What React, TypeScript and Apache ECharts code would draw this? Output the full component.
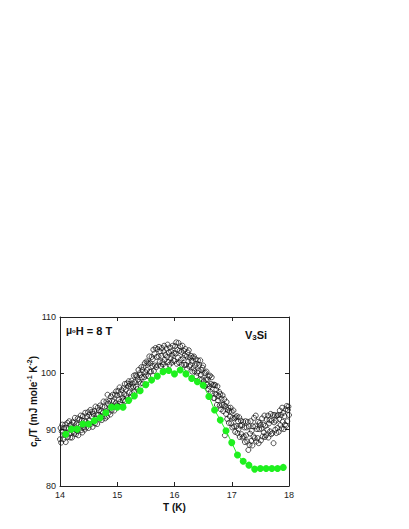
import React, { useEffect, useRef } from "react";
import * as echarts from "echarts";

// Black open circles: regularly sampled from 14.00 K in 0.01 K steps
const blackStartT = 14.0;
const blackStepT = 0.01;
const blackValues = [
  88.3, 90.3, 87.7, 89.7, 90.9, 89.1, 88.3, 90.3, 89.1, 90.9,
  87.8, 90.3, 89.5, 91.2, 88.7, 90.1, 91.5, 89.3, 88.6, 90.9,
  90.4, 88.6, 91.4, 89.6, 91.2, 89.3, 92.1, 90.2, 89.2, 91.0,
  89.8, 92.0, 89.0, 90.9, 91.8, 90.5, 92.5, 89.9, 91.7, 89.5,
  92.4, 90.4, 91.6, 90.0, 93.0, 91.4, 90.4, 92.4, 91.1, 93.1,
  90.3, 92.6, 91.6, 93.5, 91.0, 92.3, 93.2, 90.5, 92.8, 91.5,
  93.3, 91.1, 94.1, 92.0, 92.7, 91.0, 93.9, 92.6, 93.4, 91.8,
  94.3, 92.3, 93.3, 91.7, 94.1, 93.0, 95.0, 92.4, 94.0, 92.0,
  93.3, 95.0, 92.3, 96.2, 94.6, 93.0, 95.1, 94.0, 92.7, 95.9,
  93.4, 95.1, 96.2, 94.0, 95.0, 93.4, 96.2, 94.7, 96.8, 94.3,
  96.1, 94.2, 96.9, 95.4, 97.5, 94.9, 96.3, 94.4, 97.0, 95.7,
  95.2, 97.4, 96.3, 98.1, 95.1, 97.1, 96.1, 98.2, 95.6, 97.7,
  98.6, 96.6, 98.1, 95.7, 97.6, 98.7, 96.5, 98.2, 97.6, 99.6,
  96.8, 98.5, 99.7, 97.6, 99.5, 97.2, 98.9, 100.6, 98.5, 100.0,
  99.7, 98.2, 101.1, 99.3, 100.6, 98.2, 101.1, 99.3, 101.8, 100.2,
  99.6, 102.1, 100.6, 101.9, 99.5, 101.7, 103.0, 100.3, 101.8, 100.3,
  102.9, 101.3, 102.5, 104.2, 100.4, 103.5, 101.4, 104.5, 101.1, 102.9,
  104.3, 101.4, 103.0, 104.7, 102.0, 103.9, 101.3, 103.1, 104.5, 102.0,
  101.6, 103.9, 104.9, 102.4, 103.3, 101.2, 104.4, 102.9, 105.1, 102.0,
  103.7, 101.5, 104.6, 102.7, 103.9, 101.9, 103.3, 104.9, 102.3, 103.6,
  102.2, 104.8, 103.5, 105.5, 101.7, 104.2, 102.8, 105.4, 101.9, 104.0,
  104.8, 102.4, 103.8, 101.5, 104.9, 102.7, 104.0, 101.5, 103.2, 104.3,
  101.5, 103.0, 100.8, 103.7, 102.1, 104.1, 101.2, 102.8, 101.5, 103.1,
  102.2, 100.3, 102.8, 100.9, 103.0, 100.4, 101.4, 102.5, 99.5, 101.7,
  100.1, 102.3, 100.4, 101.5, 98.9, 102.3, 99.8, 100.6, 98.9, 101.0,
  101.4, 98.6, 100.0, 97.7, 100.1, 98.9, 100.3, 98.0, 98.9, 97.2,
  99.4, 97.7, 99.6, 96.7, 98.1, 99.3, 96.4, 97.9, 95.6, 98.0,
  95.6, 97.9, 96.3, 97.1, 94.4, 97.7, 95.2, 96.0, 96.7, 94.3,
  96.3, 93.6, 95.5, 94.4, 96.1, 93.3, 94.4, 95.4, 89.0, 94.2,
  92.8, 94.9, 91.9, 93.5, 93.9, 91.2, 93.3, 92.3, 93.9, 91.1,
  93.2, 90.4, 92.1, 93.4, 90.6, 92.0, 89.6, 92.2, 90.6, 92.4,
  89.4, 91.5, 90.1, 92.2, 88.7, 90.7, 91.6, 89.2, 90.8, 88.6,
  91.4, 88.8, 90.4, 87.8, 91.5, 89.0, 90.4, 87.9, 91.4, 86.4,
  90.6, 87.3, 89.3, 91.5, 88.0, 89.8, 87.2, 90.6, 88.8, 92.1,
  88.5, 90.6, 92.5, 87.9, 90.1, 88.5, 91.4, 87.6, 90.1, 91.2,
  90.8, 88.1, 90.2, 92.0, 88.8, 90.9, 89.5, 92.5, 88.7, 90.7,
  89.0, 91.8, 90.0, 92.5, 88.6, 91.1, 91.7, 89.7, 92.8, 89.2,
  91.6, 89.4, 92.6, 87.6, 91.3, 92.6, 90.0, 91.6, 89.4, 92.5,
  90.3, 92.6, 89.6, 91.9, 93.4, 90.8, 92.6, 90.2, 93.9, 91.4,
  93.0, 90.1, 92.4, 90.9, 93.6, 90.7, 94.2, 91.5, 93.5, 94.1,
  92.6,
];

// Green filled points (T in K, cp/T)
const greenT = [
  14.1, 14.2, 14.3, 14.4, 14.5, 14.6, 14.7, 14.8, 14.9, 15.0,
  15.1, 15.2, 15.3, 15.4, 15.5, 15.6, 15.7, 15.8, 15.9, 16.0,
  16.1, 16.2, 16.3, 16.4, 16.5, 16.6, 16.7, 16.8, 16.9, 17.0,
  17.1, 17.2, 17.3, 17.4, 17.5, 17.6, 17.7, 17.8, 17.9,
];
const greenValues = [
  89.2, 90.1, 90.1, 91.0, 91.0, 91.6, 92.1, 93.0, 94.0, 94.0,
  94.0, 95.2, 96.0, 96.9, 98.0, 98.8, 99.5, 100.3, 100.5, 99.9,
  100.6, 99.9, 99.1, 98.5, 97.9, 95.9, 93.5, 91.7, 89.8, 87.7,
  85.5, 84.4, 83.7, 83.0, 83.1, 83.1, 83.1, 83.1, 83.3,
];

const xTickMin = 14;
const xTickMax = 18;
const yTickMin = 80;
const yTickMax = 110;

const FONT = "'Liberation Sans', Arial, Helvetica, sans-serif";

export default function App() {
  const ref = useRef<HTMLDivElement>(null);

  useEffect(() => {
    if (!ref.current) return;
    const chart = echarts.init(ref.current, undefined, { renderer: "svg" });

    const blackData = blackValues.map((v, i) => [
      +(blackStartT + i * blackStepT).toFixed(2),
      v,
    ]);
    const greenData = greenT.map((t, i) => [t, greenValues[i]]);

    const axisLine = { show: true, lineStyle: { color: "#222", width: 1 } };
    const axisTick = { show: true, inside: true, length: 4, lineStyle: { color: "#222" } };

    const option: any = {
      animation: false,
      backgroundColor: "#fff",
      grid: { left: 52, right: 120, top: 309, bottom: 35 },
      xAxis: [
        {
          type: "value",
          min: xTickMin,
          max: xTickMax,
          interval: 1,
          position: "bottom",
          axisLine,
          axisTick,
          splitLine: { show: false },
          axisLabel: { fontSize: 9, color: "#222", margin: 4, fontFamily: FONT },
          name: "T (K)",
          nameLocation: "middle",
          nameGap: 16,
          nameTextStyle: { fontSize: 10, fontWeight: "bold", color: "#111", fontFamily: FONT },
        },
        {
          type: "value",
          min: xTickMin,
          max: xTickMax,
          interval: 1,
          position: "top",
          axisLine,
          axisTick,
          splitLine: { show: false },
          axisLabel: { show: false },
        },
      ],
      yAxis: [
        {
          type: "value",
          min: yTickMin,
          max: yTickMax,
          interval: 10,
          position: "left",
          axisLine,
          axisTick,
          splitLine: { show: false },
          axisLabel: { fontSize: 9, color: "#222", margin: 4, fontFamily: FONT },
          name: "{b|c}{sub|p}{b|/T (mJ mole}{sup|-1}{b| K}{sup|-2}{b|)}",
          nameLocation: "middle",
          nameGap: 20,
          nameMoveOverlap: false,
          nameTextStyle: {
            fontFamily: FONT,
            rich: {
              b: { fontSize: 10, fontWeight: "bold", color: "#111", fontFamily: FONT, lineHeight: 14, verticalAlign: "middle" },
              sub: { fontSize: 7, fontWeight: "bold", color: "#111", fontFamily: FONT, lineHeight: 14, verticalAlign: "bottom" },
              sup: { fontSize: 7, fontWeight: "bold", color: "#111", fontFamily: FONT, lineHeight: 14, verticalAlign: "top" },
            },
          },
        },
        {
          type: "value",
          min: yTickMin,
          max: yTickMax,
          interval: 10,
          position: "right",
          axisLine,
          axisTick,
          splitLine: { show: false },
          axisLabel: { show: false },
        },
      ],
      graphic: [
        {
          type: "text",
          left: 58,
          top: 317,
          style: {
            text: "{mu|μ}{o|o}{b|H = 8 T}",
            rich: {
              mu: { fontSize: 10, fontWeight: "bold", fill: "#111", fontFamily: FONT, lineHeight: 14, verticalAlign: "middle" },
              o: { fontSize: 6, fontWeight: "bold", fill: "#111", fontFamily: FONT, lineHeight: 14, verticalAlign: "middle" },
              b: { fontSize: 11, fontWeight: "bold", fill: "#111", fontFamily: FONT, lineHeight: 14, verticalAlign: "middle" },
            },
          },
        },
        {
          type: "text",
          left: 237,
          top: 321,
          style: {
            text: "{b|V}{sub|3}{b|Si}",
            rich: {
              b: { fontSize: 11, fontWeight: "bold", fill: "#111", fontFamily: FONT, lineHeight: 14, verticalAlign: "middle" },
              sub: { fontSize: 8, fontWeight: "bold", fill: "#111", fontFamily: FONT, lineHeight: 14, verticalAlign: "bottom" },
            },
          },
        },
      ],
      series: [
        {
          type: "scatter",
          xAxisIndex: 0,
          yAxisIndex: 0,
          data: blackData,
          symbol: "circle",
          symbolSize: 5,
          itemStyle: { color: "rgba(255,255,255,0)", borderColor: "#111", borderWidth: 0.9 },
          z: 2,
        },
        {
          type: "line",
          xAxisIndex: 0,
          yAxisIndex: 0,
          data: greenData,
          symbol: "circle",
          symbolSize: 7,
          showSymbol: true,
          lineStyle: { color: "#1ef01e", width: 1 },
          itemStyle: { color: "#1ef01e", borderWidth: 0 },
          z: 3,
        },
      ],
    };

    chart.setOption(option);
    return () => chart.dispose();
  }, []);

  return <div ref={ref} style={{ width: 401, height: 513 }} />;
}
